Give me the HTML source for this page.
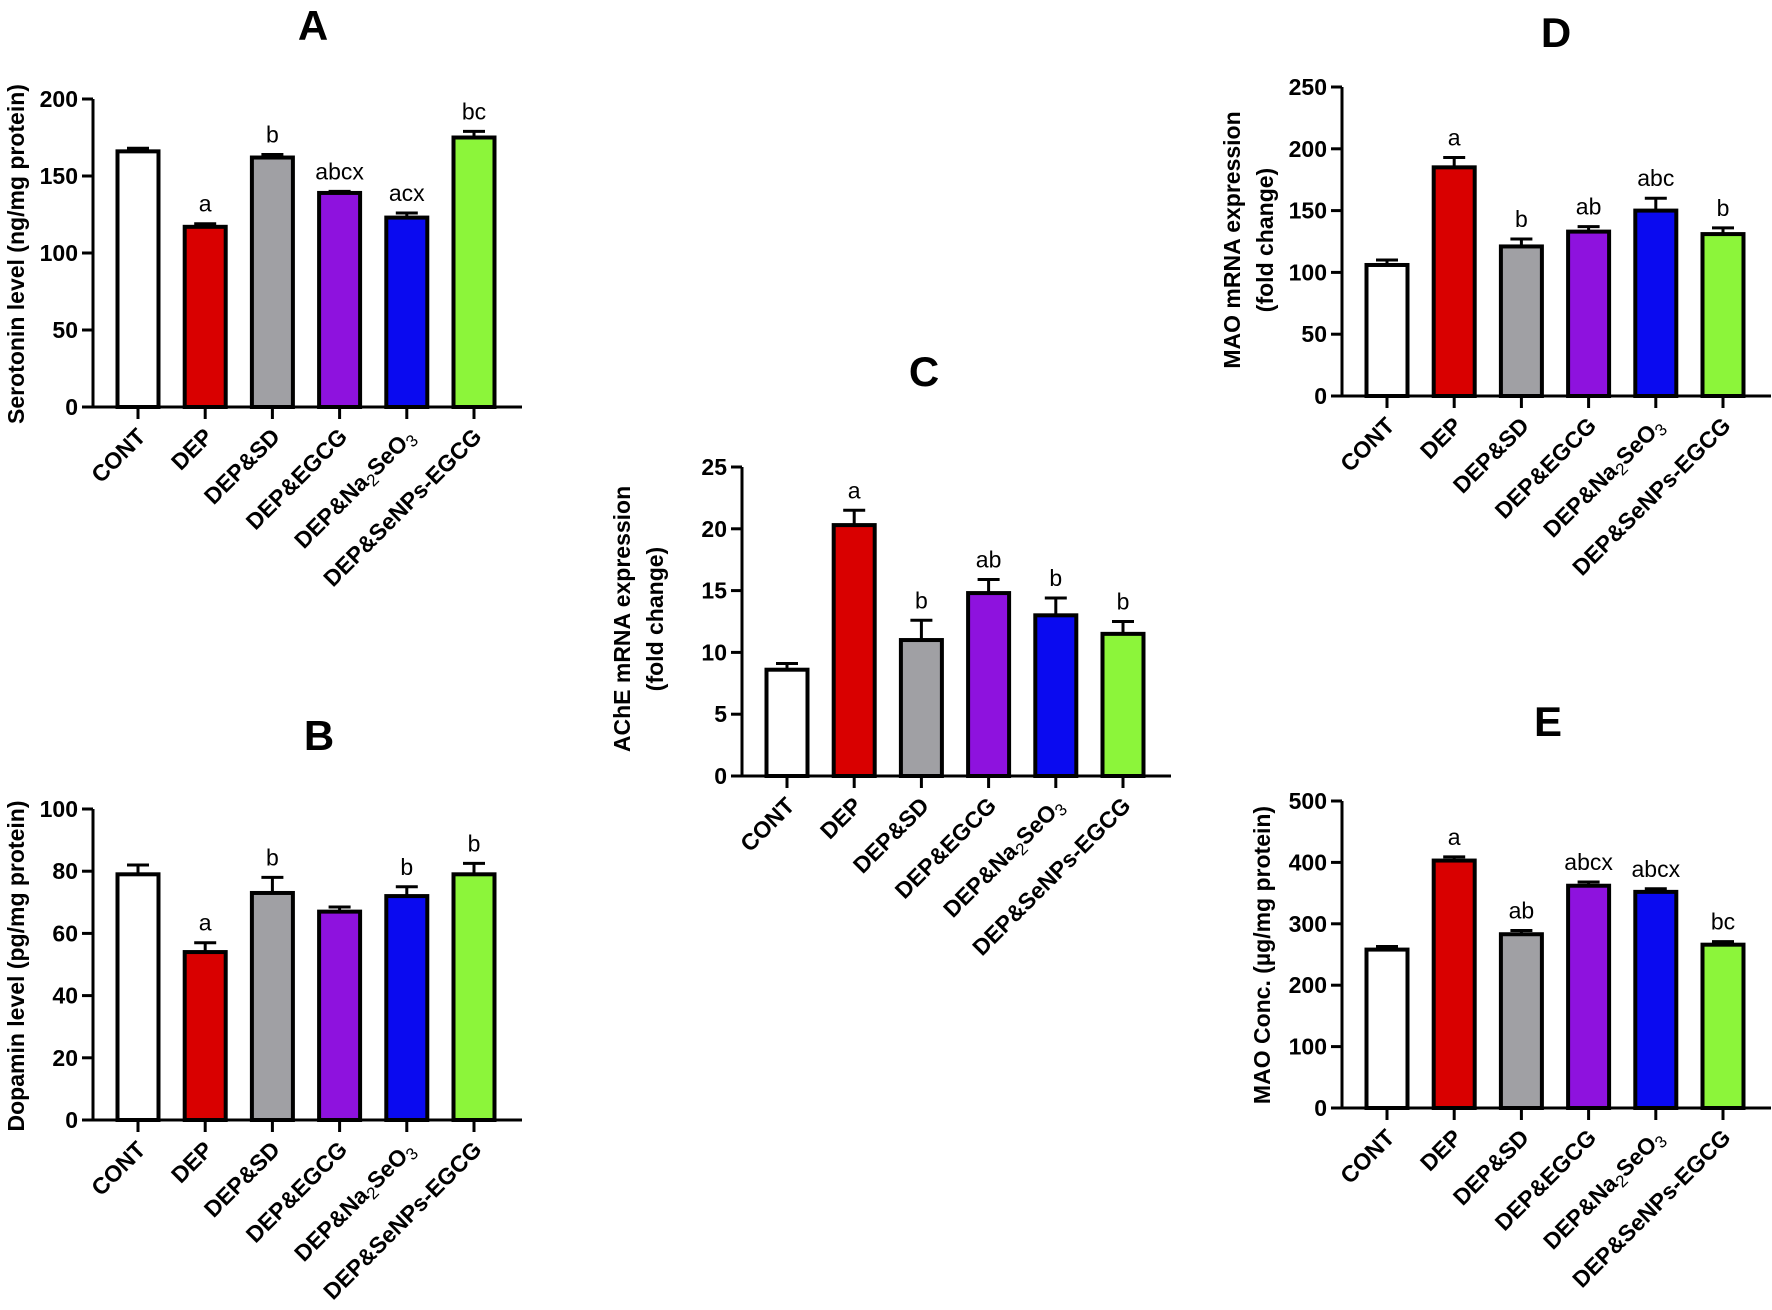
<!DOCTYPE html>
<html><head><meta charset="utf-8"><style>
html,body{margin:0;padding:0;background:#fff;}
svg{display:block;font-family:"Liberation Sans",Arial,sans-serif;}
</style></head>
<body>
<svg id="fig" width="1772" height="1310" viewBox="0 0 1772 1310" xmlns="http://www.w3.org/2000/svg"></svg>
<script>
const categories = ["CONT","DEP","DEP&SD","DEP&EGCG","DEP&Na2SeO3","DEP&SeNPs-EGCG"];
const colors = ["#ffffff","#d90000","#a0a0a4","#8e12de","#0a0af0","#8cf53a"];

const serotoninValues = [166,117,162,139,123,175];
const serotoninErrors = [2,2,2,1,3,4];
const serotoninLetters = ["","a","b","abcx","acx","bc"];
const serotoninTicks = [0,50,100,150,200];

const dopaminValues = [79,54,73,67,72,79];
const dopaminErrors = [3,3,5,1.5,3,3.5];
const dopaminLetters = ["","a","b","","b","b"];
const dopaminTicks = [0,20,40,60,80,100];

const acheValues = [8.6,20.3,11,14.8,13,11.5];
const acheErrors = [0.5,1.2,1.6,1.1,1.4,1];
const acheLetters = ["","a","b","ab","b","b"];
const acheTicks = [0,5,10,15,20,25];

const maoMrnaValues = [106,185,121,133,150,131];
const maoMrnaErrors = [4,8,6,4,10,5];
const maoMrnaLetters = ["","a","b","ab","abc","b"];
const maoMrnaTicks = [0,50,100,150,200,250];

const maoConcValues = [258,403,283,362,352,266];
const maoConcErrors = [5,6,6,6,5,5];
const maoConcLetters = ["","a","ab","abcx","abcx","bc"];
const maoConcTicks = [0,100,200,300,400,500];

const NS="http://www.w3.org/2000/svg";
const svg=document.getElementById('fig');
function mk(tag,attrs,parent){const e=document.createElementNS(NS,tag);for(const k in attrs)e.setAttribute(k,attrs[k]);(parent||svg).appendChild(e);return e;}

function panel(cfg){
  const g=mk('g',{});
  
  
  const ymax=cfg.ticks[cfg.ticks.length-1];
  const y=v=>cfg.y0-(v/ymax)*(cfg.y0-cfg.yTop);
  const x=i=>cfg.ax+45+i*67.2;
  const t=mk('text',{x:cfg.tx,y:cfg.ty,'font-size':42,'font-weight':'bold','text-anchor':'middle'},g);
  t.textContent=cfg.id;
  
  
  const yt=mk('text',{transform:`translate(${cfg.ytx},${cfg.yty}) rotate(-90)`,'font-size':23,'font-weight':'bold','text-anchor':'middle'},g);
  
  
  cfg.ytitle.forEach((s,k)=>{const ts=mk('tspan',{x:0,dy:k==0?0:33},yt);ts.textContent=s;});
  cfg.values.forEach((v,i)=>{
    const cx=x(i),bw=41,top=y(v),et=y(v+cfg.errors[i]);
    const eb=mk('line',{x1:cx,x2:cx,y1:top,y2:et,stroke:'#000','stroke-width':3},g);
    
    
    const cap=mk('line',{x1:cx-11,x2:cx+11,y1:et,y2:et,stroke:'#000','stroke-width':3},g);
    
    
    const r=mk('rect',{x:cx-bw/2,y:top,width:bw,height:cfg.y0-top,fill:colors[i],stroke:'#000','stroke-width':4},g);
    
    
    if(cfg.letters[i]){
      const lt=mk('text',{x:cx,y:et-12,'font-size':23,'text-anchor':'middle'},g);
      lt.textContent=cfg.letters[i];
      
      
    }
    const tk=mk('line',{x1:cx,x2:cx,y1:cfg.y0,y2:cfg.y0+12,stroke:'#000','stroke-width':3},g);
    
    
    const xl=mk('text',{transform:`translate(${cx+9},${cfg.y0+31}) rotate(-45)`,'font-size':23,'font-weight':'bold','text-anchor':'end'},g);
    
    
    const c=categories[i];
    if(c==="DEP&Na2SeO3"){
      const a=mk('tspan',{},xl);a.textContent="DEP&Na";
      const b=mk('tspan',{'font-weight':'normal','font-size':17,dy:5},xl);b.textContent="2";
      const d=mk('tspan',{dy:-5},xl);d.textContent="SeO";
      const e=mk('tspan',{'font-weight':'normal','font-size':17,dy:5},xl);e.textContent="3";
    } else xl.textContent=c;
  });
  const ya=mk('line',{x1:cfg.ax,x2:cfg.ax,y1:cfg.yTop,y2:cfg.y0+1.5,stroke:'#000','stroke-width':3},g);
  
  
  const xa=mk('line',{x1:cfg.ax-11,x2:cfg.ax+429,y1:cfg.y0,y2:cfg.y0,stroke:'#000','stroke-width':3},g);
  
  
  cfg.ticks.forEach(v=>{
    const tl=mk('line',{x1:cfg.ax-11,x2:cfg.ax,y1:y(v),y2:y(v),stroke:'#000','stroke-width':3},g);
    
    
    const tt=mk('text',{x:cfg.ax-15,y:y(v)+8,'font-size':23,'font-weight':'bold','text-anchor':'end'},g);
    tt.textContent=v;
    
    
  });
}

panel({id:'A',ax:93,y0:407,yTop:99,ticks:serotoninTicks,values:serotoninValues,errors:serotoninErrors,letters:serotoninLetters,tx:313,ty:40,ytx:24,yty:254,ytitle:["Serotonin level (ng/mg protein)"]});
panel({id:'B',ax:93,y0:1120,yTop:809,ticks:dopaminTicks,values:dopaminValues,errors:dopaminErrors,letters:dopaminLetters,tx:319,ty:750,ytx:24,yty:966,ytitle:["Dopamin level (pg/mg protein)"]});
panel({id:'C',ax:742,y0:776,yTop:467,ticks:acheTicks,values:acheValues,errors:acheErrors,letters:acheLetters,tx:924,ty:386,ytx:630,yty:619,ytitle:["AChE mRNA expression","(fold change)"]});
panel({id:'D',ax:1342,y0:396,yTop:87,ticks:maoMrnaTicks,values:maoMrnaValues,errors:maoMrnaErrors,letters:maoMrnaLetters,tx:1556,ty:47,ytx:1240,yty:240,ytitle:["MAO mRNA expression","(fold change)"]});
panel({id:'E',ax:1342,y0:1108,yTop:801,ticks:maoConcTicks,values:maoConcValues,errors:maoConcErrors,letters:maoConcLetters,tx:1548,ty:736,ytx:1270,yty:955,ytitle:["MAO Conc. (µg/mg protein)"]});
</script>
</body></html>
